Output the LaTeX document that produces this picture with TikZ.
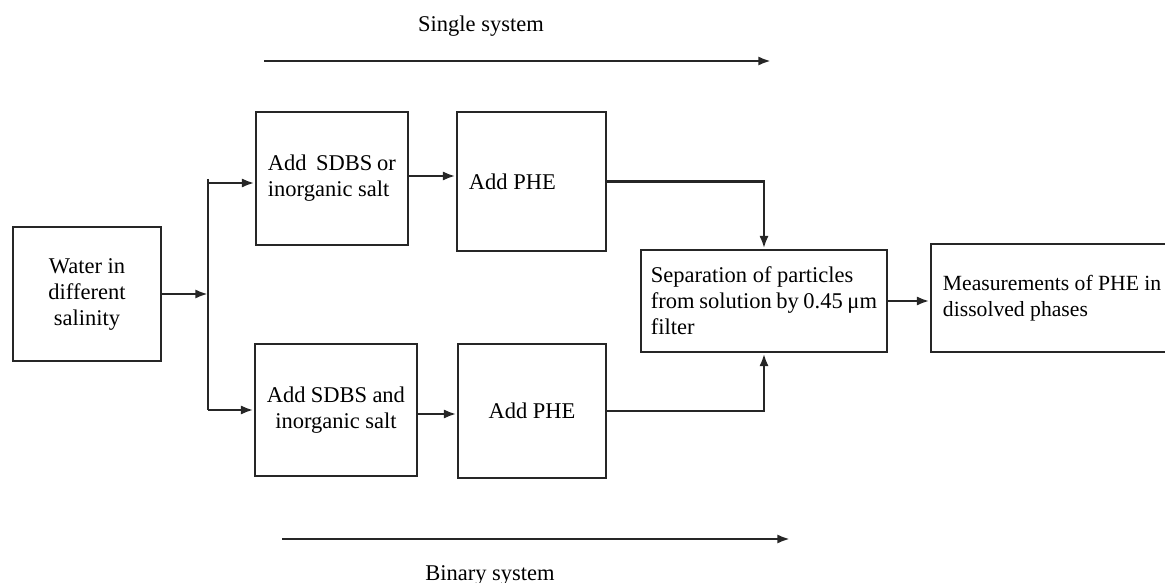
\documentclass[tikz,border=0pt]{standalone}
\usepackage{fontspec}
\setmainfont{Liberation Serif}
\usepackage{tikz}
\usetikzlibrary{arrows.meta, positioning, calc}
\tikzset{
  box/.style={rectangle, draw=black!85, line width=2pt,
              inner xsep=0.3cm, inner ysep=0pt,
              font=\fontsize{16}{18.5}\selectfont},
  boxL/.style={box, align=flush left},
  boxC/.style={box, align=flush center},
  arrow/.style={-{Latex[length=9pt,width=6.5pt]}, line width=2pt, draw=black!85},
  link/.style={line width=2pt, draw=black!85},
  caption/.style={font=\fontsize{16}{18}\selectfont},
}

\begin{document}
\begin{tikzpicture}[x=0.025cm, y=-0.025cm]

  \clip (0,0) rectangle (1165,583);

  % process boxes
  \node[boxC, minimum width=3.7cm,   minimum height=3.35cm,  text width=3.1cm]   (water) at (87,294)     {Water~in\\different\\salinity};
  \node[boxL, minimum width=3.8cm,   minimum height=3.325cm, text width=3.2cm]   (add1)  at (332,178.5)  {Add~~SDBS~or\\inorganic~salt};
  \node[boxL, minimum width=3.725cm, minimum height=3.475cm, text width=3.125cm] (phe1)  at (531.5,181.5){Add~PHE};
  \node[boxC, minimum width=4.05cm,  minimum height=3.3cm,   text width=3.45cm]  (add2)  at (336,410)    {Add~SDBS~and\\inorganic~salt};
  \node[boxC, minimum width=3.7cm,   minimum height=3.35cm,  text width=3.1cm]   (phe2)  at (532,411)    {Add~PHE};
  \node[boxL, minimum width=6.15cm,  minimum height=2.55cm,  text width=5.65cm,
        inner xsep=0.25cm]                                                     (sep)   at (764,301)    {Separation~of~particles\\from~solution~by~0.45~μm\\filter};
  \node[boxL, minimum width=6.225cm, minimum height=2.7cm,   text width=5.625cm,
        font=\fontsize{15.4}{18.5}\selectfont]                                 (meas)  at (1055.5,298) {Measurements~of~PHE~in\\dissolved~phases};

  % splitting bar
  \coordinate (bartop) at (208,179);
  \coordinate (barbot) at (208,410);
  \draw[link] (bartop) -- (barbot);

  \draw[arrow] (water.east) -- (water.east -| bartop);
  \draw[arrow] (208,183) -- (208,183 -| add1.west);
  \draw[arrow] (barbot) -- (barbot -| add2.west);
  \draw[arrow] (add1.east |- 0,176) -- (phe1.west |- 0,176);
  \draw[arrow] (add2.east |- 0,414) -- (phe2.west |- 0,414);
  \draw[arrow] (phe1.east) -| (sep.north);
  \draw[arrow] (phe2.east) -| (sep.south);
  \draw[arrow] (sep.east) -- (sep.east -| meas.west);

  % system arrows
  \coordinate (singleA) at (264,61);
  \coordinate (singleB) at (771,61);
  \coordinate (binaryA) at (282,539);
  \coordinate (binaryB) at (790,539);
  \draw[arrow] (singleA) -- (singleB);
  \draw[arrow] (binaryA) -- (binaryB);
  \node[caption] (single) at (481,26)  {Single system};
  \node[caption] (binary) at (490,575) {Binary system};

\end{tikzpicture}
\end{document}
